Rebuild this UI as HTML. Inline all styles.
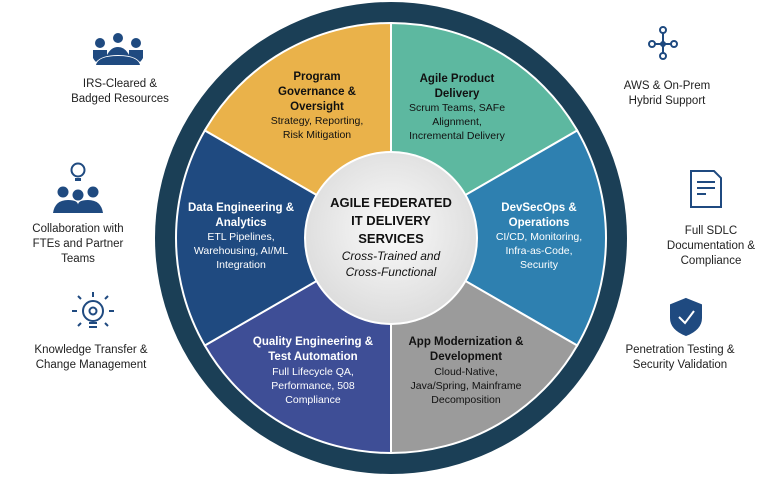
<!DOCTYPE html>
<html><head><meta charset="utf-8"><style>
html,body{margin:0;padding:0;background:#fff;}
svg{display:block;font-family:"Liberation Sans",sans-serif;}
.t{font-weight:bold;font-size:11.5px;text-anchor:middle;}
.s{font-size:10.5px;text-anchor:middle;}
.l{font-size:11.5px;text-anchor:middle;fill:#222;}
</style></head><body>
<svg width="768" height="477" viewBox="0 0 768 477">
<defs><radialGradient id="g" cx="50%" cy="45%" r="55%"><stop offset="0" stop-color="#fafafa"/><stop offset="1" stop-color="#dcdcdc"/></radialGradient></defs>
<circle cx="391" cy="238" r="236" fill="#1B3F56"/>
<g stroke="#fff" stroke-width="2">
<path d="M391 238 L391 23 A215 215 0 0 0 204.8 130.5 Z" fill="#EAB24A"/>
<path d="M391 238 L391 23 A215 215 0 0 1 577.2 130.5 Z" fill="#5DB8A0"/>
<path d="M391 238 L577.2 130.5 A215 215 0 0 1 577.2 345.5 Z" fill="#2E80B0"/>
<path d="M391 238 L577.2 345.5 A215 215 0 0 1 391 453 Z" fill="#9B9B9B"/>
<path d="M391 238 L391 453 A215 215 0 0 1 204.8 345.5 Z" fill="#3E4E96"/>
<path d="M391 238 L204.8 345.5 A215 215 0 0 1 204.8 130.5 Z" fill="#1F4A80"/>
</g>
<circle cx="391" cy="238" r="86" fill="url(#g)" stroke="#fff" stroke-width="2"/>
<g fill="#111"><text class="t" x="317" y="80">Program</text><text class="t" x="317" y="95">Governance &amp;</text><text class="t" x="317" y="110">Oversight</text>
<text class="s" x="317" y="124">Strategy, Reporting,</text><text class="s" x="317" y="138">Risk Mitigation</text>
<text class="t" x="457" y="82">Agile Product</text><text class="t" x="457" y="97">Delivery</text>
<text class="s" x="457" y="111">Scrum Teams, SAFe</text><text class="s" x="457" y="125">Alignment,</text><text class="s" x="457" y="139">Incremental Delivery</text>
<text class="t" x="466" y="345">App Modernization &amp;</text><text class="t" x="466" y="360">Development</text>
<text class="s" x="466" y="375">Cloud-Native,</text><text class="s" x="466" y="389">Java/Spring, Mainframe</text><text class="s" x="466" y="403">Decomposition</text></g>
<g fill="#fff"><text class="t" x="241" y="211">Data Engineering &amp;</text><text class="t" x="241" y="226">Analytics</text>
<text class="s" x="241" y="240">ETL Pipelines,</text><text class="s" x="241" y="254">Warehousing, AI/ML</text><text class="s" x="241" y="268">Integration</text>
<text class="t" x="539" y="211">DevSecOps &amp;</text><text class="t" x="539" y="226">Operations</text>
<text class="s" x="539" y="240">CI/CD, Monitoring,</text><text class="s" x="539" y="254">Infra-as-Code,</text><text class="s" x="539" y="268">Security</text>
<text class="t" x="313" y="345">Quality Engineering &amp;</text><text class="t" x="313" y="360">Test Automation</text>
<text class="s" x="313" y="375">Full Lifecycle QA,</text><text class="s" x="313" y="389">Performance, 508</text><text class="s" x="313" y="403">Compliance</text></g>
<g fill="#111" text-anchor="middle"><text x="391" y="207" font-weight="bold" font-size="13">AGILE FEDERATED</text>
<text x="391" y="225" font-weight="bold" font-size="13">IT DELIVERY</text><text x="391" y="243" font-weight="bold" font-size="13">SERVICES</text>
<text x="391" y="260" font-style="italic" font-size="12">Cross-Trained and</text><text x="391" y="276" font-style="italic" font-size="12">Cross-Functional</text></g>
<text class="l" x="120" y="87">IRS-Cleared &amp;</text><text class="l" x="120" y="102">Badged Resources</text>
<text class="l" x="78" y="232">Collaboration with</text><text class="l" x="78" y="247">FTEs and Partner</text><text class="l" x="78" y="262">Teams</text>
<text class="l" x="91" y="353">Knowledge Transfer &amp;</text><text class="l" x="91" y="368">Change Management</text>
<text class="l" x="667" y="89">AWS &amp; On-Prem</text><text class="l" x="667" y="104">Hybrid Support</text>
<text class="l" x="711" y="234">Full SDLC</text><text class="l" x="711" y="249">Documentation &amp;</text><text class="l" x="711" y="264">Compliance</text>
<text class="l" x="680" y="353">Penetration Testing &amp;</text><text class="l" x="680" y="368">Security Validation</text>
<g fill="#1F4A80">
<circle cx="100" cy="43" r="5"/><circle cx="118" cy="38" r="5"/><circle cx="136" cy="43" r="5"/>
<path d="M93 50 h14 v5 Q111 47 118 47 Q125 47 129 55 v-5 h14 v8 Q142 60 140 62 Q134 55 118 55 Q102 55 96 62 Q94 60 93 58 Z"/>
<path d="M96 65 Q98 56 118 56 Q138 56 140 65 Z"/>
<circle cx="63" cy="192" r="5.5"/><circle cx="78" cy="195" r="5.5"/><circle cx="93" cy="192" r="5.5"/>
<path d="M53 213 Q55 200 68 200 Q78 200 78 205 Q78 200 88 200 Q101 200 103 213 Z"/>
</g>
<circle cx="78" cy="170" r="6.5" fill="none" stroke="#1F4A80" stroke-width="2"/><rect x="75" y="178" width="6" height="3" fill="#1F4A80"/>
<g fill="none" stroke="#1F4A80" stroke-width="2"><circle cx="93" cy="311" r="10"/><circle cx="93" cy="311" r="3.5"/>
<path d="M89 323 L97 323 M89 327 L97 327 M93 292 v5 M77 311 h-5 M109 311 h5 M81 299 l-3 -3 M105 299 l3 -3 M81 323 l-3 3 M105 323 l3 3"/>
<circle cx="663" cy="30" r="3"/><circle cx="652" cy="44" r="3"/><circle cx="674" cy="44" r="3"/><circle cx="663" cy="44" r="2"/><circle cx="663" cy="56" r="3"/><path d="M663 33 V53 M655 44 H671"/>
<path d="M691 171 H714 L721 178 V207 H691 Z M697 182 H715 M697 188 H715 M697 194 H706"/>
<path d="M686 299 L701 305 V318 Q701 329 686 335 Q671 329 671 318 V305 Z" fill="#1F4A80"/>
<path d="M679 317 L685 323 L694 311" stroke="#fff"/></g>
</svg>
</body></html>
